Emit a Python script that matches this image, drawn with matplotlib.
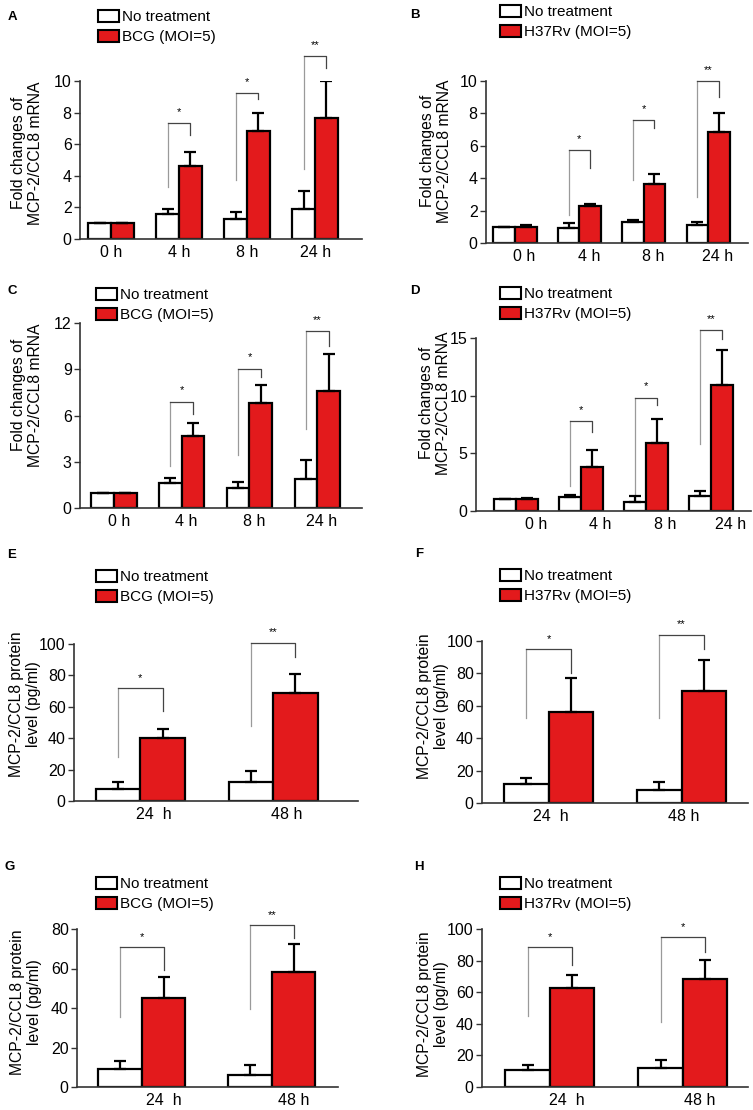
import numpy as np
import matplotlib
matplotlib.use('Agg')
import matplotlib.pyplot as plt
from matplotlib.patches import Patch

# ---- data ----
mrna_times = ['0 h', '4 h', '8 h', '24 h']
protein_times = ['24  h', '48 h']

# A: BCG, mRNA
a_ctrl = [1.0, 1.58, 1.28, 1.87]
a_ctrl_err = [0.0, 0.30, 0.40, 1.18]
a_inf = [1.0, 4.63, 6.82, 7.64]
a_inf_err = [0.0, 0.85, 1.18, 2.36]
a_sig = [(3.3, 7.37, 6.57, '*'), (3.73, 9.24, 8.84, '*'), (4.46, 11.6, 10.8, '**')]

# B: H37Rv, mRNA
b_ctrl = [1.0, 0.92, 1.27, 1.13]
b_ctrl_err = [0.0, 0.30, 0.17, 0.14]
b_inf = [1.0, 2.26, 3.66, 6.84]
b_inf_err = [0.1, 0.16, 0.60, 1.16]
b_sig = [(1.75, 5.75, 4.62, '*'), (3.9, 7.6, 7.1, '*'), (2.87, 10.0, 9.03, '**')]

# C: BCG, mRNA
c_ctrl = [1.0, 1.63, 1.32, 1.91]
c_ctrl_err = [0.0, 0.30, 0.39, 1.20]
c_inf = [1.0, 4.66, 6.83, 7.61]
c_inf_err = [0.0, 0.83, 1.15, 2.40]
c_sig = [(2.71, 6.9, 6.1, '*'), (3.47, 9.02, 8.48, '*'), (5.1, 11.45, 10.5, '**')]

# D: H37Rv, mRNA
d_ctrl = [1.0, 1.21, 0.78, 1.30]
d_ctrl_err = [0.0, 0.20, 0.50, 0.40]
d_inf = [1.05, 3.82, 5.90, 10.9]
d_inf_err = [0.05, 1.45, 2.05, 3.10]
d_sig = [(2.14, 7.77, 6.85, '*'), (0.98, 9.83, 9.16, '*'), (5.78, 15.66, 14.94, '**')]

# E: BCG, protein
e_ctrl = [7.9, 12.2]
e_ctrl_err = [4.3, 7.0]
e_inf = [39.9, 69.1]
e_inf_err = [5.7, 11.7]
e_sig = [(28.1, 71.9, 57.6, '*'), (48.0, 100.6, 91.7, '**')]

# F: H37Rv, protein
f_ctrl = [12.0, 7.8]
f_ctrl_err = [3.7, 5.2]
f_inf = [56.3, 69.3]
f_inf_err = [20.6, 18.9]
f_sig = [(52.2, 94.8, 80.4, '*'), (52.2, 103.7, 94.8, '**')]

# G: BCG, protein
g_ctrl = [9.0, 5.9]
g_ctrl_err = [4.2, 5.1]
g_inf = [44.9, 58.0]
g_inf_err = [11.0, 14.5]
g_sig = [(35.6, 70.8, 59.0, '*'), (39.3, 81.9, 75.4, '**')]

# H: H37Rv, protein
h_ctrl = [10.6, 12.3]
h_ctrl_err = [3.6, 5.0]
h_inf = [62.4, 68.3]
h_inf_err = [8.8, 12.0]
h_sig = [(44.8, 88.4, 77.2, '*'), (41.2, 94.7, 85.6, '*')]

mrna_label = 'Fold changes of\nMCP-2/CCL8 mRNA'
protein_label = 'MCP-2/CCL8 protein\nlevel (pg/ml)'

RED = '#e31a1c'
W, H = 753, 1110

plt.rcParams['font.family'] = ['Liberation Sans', 'DejaVu Sans']
fig = plt.figure(figsize=(W / 100, H / 100), dpi=100)


def px_axes(l, t, r, b):
    return fig.add_axes([l / W, 1 - b / H, (r - l) / W, (b - t) / H])


# layout: letter, axes rect (px), xlim, ymax, ystep, tick offset, legend pos, letter pos, ylabel pos
panels = [
    ('A', a_ctrl, a_ctrl_err, a_inf, a_inf_err, a_sig, mrna_times, 'BCG (MOI=5)', mrna_label,
     (80, 81, 362, 239), (-0.456, 3.69), 10, 2, 0.0, (98, 9), (12, 17), (27, 153)),
    ('B', b_ctrl, b_ctrl_err, b_inf, b_inf_err, b_sig, mrna_times, 'H37Rv (MOI=5)', mrna_label,
     (486, 81, 748, 243), (-0.45, 3.62), 10, 2, 0.15, (500, 4), (415, 15), (436, 151)),
    ('C', c_ctrl, c_ctrl_err, c_inf, c_inf_err, c_sig, mrna_times, 'BCG (MOI=5)', mrna_label,
     (80, 323, 362, 508), (-0.50, 3.66), 12, 3, 0.07, (96, 287), (12, 291), (27, 395)),
    ('D', d_ctrl, d_ctrl_err, d_inf, d_inf_err, d_sig, mrna_times, 'H37Rv (MOI=5)', mrna_label,
     (476, 338, 751, 511), (-0.62, 3.62), 15, 5, 0.3, (500, 286), (415, 291), (435, 403)),
    ('E', e_ctrl, e_ctrl_err, e_inf, e_inf_err, e_sig, protein_times, 'BCG (MOI=5)', protein_label,
     (74, 644, 358, 801), (-0.50, 1.64), 100, 20, 0.1, (96, 569), (12, 555), (25, 704)),
    ('F', f_ctrl, f_ctrl_err, f_inf, f_inf_err, f_sig, protein_times, 'H37Rv (MOI=5)', protein_label,
     (482, 641, 748, 803), (-0.50, 1.50), 100, 20, 0.02, (500, 568), (419, 554), (433, 706)),
    ('G', g_ctrl, g_ctrl_err, g_inf, g_inf_err, g_sig, protein_times, 'BCG (MOI=5)', protein_label,
     (77, 929, 338, 1087), (-0.50, 1.51), 80, 20, 0.17, (96, 876), (10, 867), (26, 1002)),
    ('H', h_ctrl, h_ctrl_err, h_inf, h_inf_err, h_sig, protein_times, 'H37Rv (MOI=5)', protein_label,
     (482, 929, 748, 1087), (-0.51, 1.49), 100, 20, 0.13, (500, 876), (419, 867), (433, 1004)),
]

w = 0.335
for (letter, ctrl, ctrl_err, inf, inf_err, sig, times, inf_name, ylab,
     rect, xlim, ymax, ystep, toff, leg, lpos, ylpos) in panels:
    ax = px_axes(*rect)
    x = np.arange(len(times))
    ax.bar(x - w / 2, ctrl, w, color='white', edgecolor='black', linewidth=1.6, zorder=2)
    ax.bar(x + w / 2, inf, w, color=RED, edgecolor='black', linewidth=1.6, zorder=2)
    z = np.zeros(len(times))
    ax.errorbar(x - w / 2, ctrl, yerr=[z, ctrl_err], fmt='none', ecolor='black',
                elinewidth=1.6, capsize=4.5, capthick=1.6, zorder=3)
    ax.errorbar(x + w / 2, inf, yerr=[z, inf_err], fmt='none', ecolor='black',
                elinewidth=1.6, capsize=4.5, capthick=1.6, zorder=3)

    # significance brackets
    for i, (lb, top, rb, lab) in enumerate(sig):
        gi = x[-len(sig) + i]
        xl, xr = gi - w / 2, gi + w / 2
        ax.plot([xl, xl], [lb, top], color='#9a9a9a', lw=0.9, clip_on=False)
        ax.plot([xl, xr, xr], [top, top, rb], color='#444444', lw=0.9, clip_on=False)
        ax.text(gi, top + ymax * 0.035, lab, ha='center', va='bottom', fontsize=8,
                clip_on=False)

    ax.set_xlim(*xlim)
    ax.set_ylim(0, ymax)
    ax.set_yticks(np.arange(0, ymax + 0.01, ystep))
    ax.set_xticks(x + toff)
    ax.set_xticklabels(times)
    ax.tick_params(axis='x', length=0, labelsize=11.5, pad=4)
    ax.tick_params(axis='y', length=4, width=1, labelsize=11.5, pad=2, color='#333333')
    for s in ['top', 'right']:
        ax.spines[s].set_visible(False)
    for s in ['left', 'bottom']:
        ax.spines[s].set_color('#333333')
        ax.spines[s].set_linewidth(1.2)

    handles = [Patch(facecolor='white', edgecolor='black', linewidth=1.5),
               Patch(facecolor=RED, edgecolor='black', linewidth=1.5)]
    fig.legend(handles, ['No treatment', inf_name], loc='upper left',
               bbox_to_anchor=(leg[0] / W, 1 - (leg[1] + 1) / H), frameon=False,
               fontsize=11, handlelength=1.35, handleheight=0.8, handletextpad=0.2,
               labelspacing=0.4, borderpad=0, borderaxespad=0)

    fig.text(lpos[0] / W, 1 - lpos[1] / H, letter, fontsize=9.5, fontweight='bold',
             ha='center', va='center')
    fig.text(ylpos[0] / W, 1 - ylpos[1] / H, ylab, rotation=90, ha='center', va='center',
             fontsize=11.3, linespacing=1.1, multialignment='center')

fig.savefig('out.png', dpi=100)
